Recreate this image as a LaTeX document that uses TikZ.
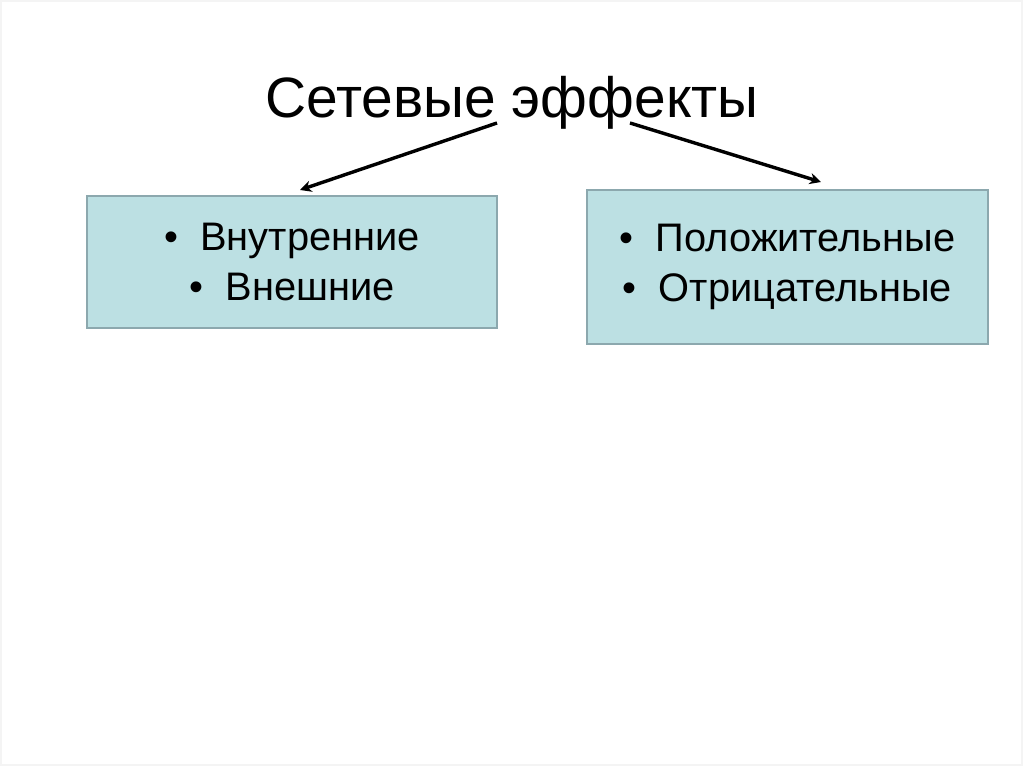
\documentclass[tikz,border=0pt]{standalone}
\usepackage{fontspec}
\setmainfont{Liberation Sans}
\usetikzlibrary{arrows.meta}
\definecolor{boxfill}{RGB}{188,224,227}
\definecolor{boxline}{RGB}{140,168,174}
\definecolor{frame}{RGB}{244,244,244}
\tikzset{
  box/.style={draw=boxline, line width=1pt, fill=boxfill, inner sep=0pt, align=center,
    font=\fontsize{28}{35}\selectfont},
  conn/.style={line width=2.4pt, -{Stealth[length=8pt,width=8pt]}},
}
\begin{document}
\begin{tikzpicture}[x=0.703125pt, y=-0.703125pt]
\useasboundingbox (0,0) rectangle (1024,767);
\fill[white] (0,0) rectangle (1024,767);
\draw[frame, line width=1pt] (1,1) rectangle (1022,765);
\node[anchor=base, font=\fontsize{40}{46}\selectfont] (title) at (512,118) {Сетевые эффекты};
\node[box, minimum width=410*0.703125pt, minimum height=132*0.703125pt] (left) at (292,262)
  {\textbullet\ \ Внутренние\\\textbullet\ \ Внешние};
\node[box, minimum width=401*0.703125pt, minimum height=154*0.703125pt] (right) at (787.5,267)
  {\textbullet\ \ Положительные\\\textbullet\ \ Отрицательные};
\coordinate (ls) at (497,123);
\coordinate (le) at (300,190);
\coordinate (rs) at (630,123);
\coordinate (re) at (821,182);
\draw[conn] (ls) -- (le);
\draw[conn] (rs) -- (re);
\end{tikzpicture}
\end{document}
